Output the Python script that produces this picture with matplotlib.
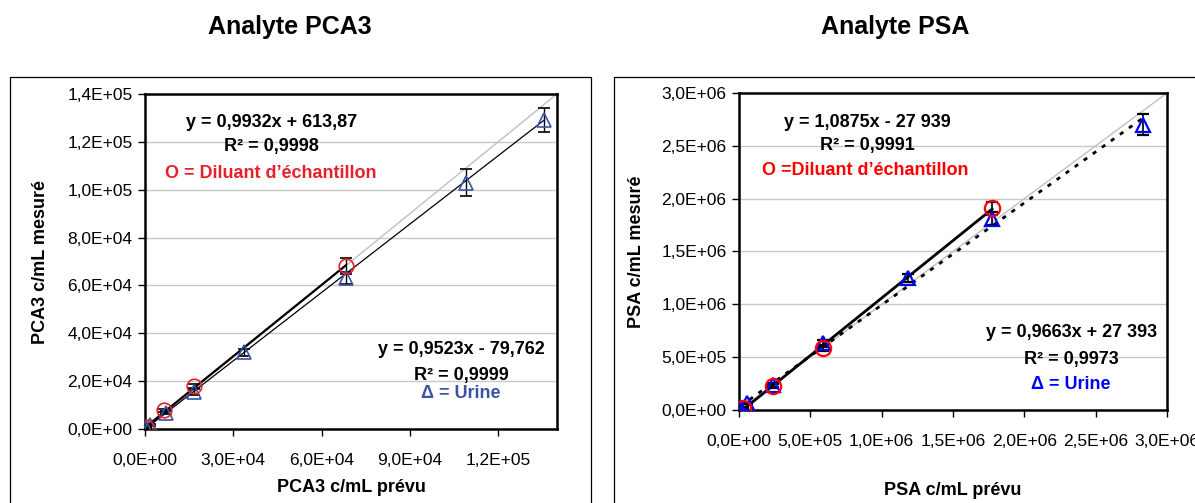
import matplotlib
matplotlib.use('Agg')
import matplotlib.pyplot as plt
from matplotlib.patches import Rectangle
from matplotlib.ticker import FuncFormatter, MultipleLocator

plt.rcParams['font.family'] = ['Liberation Sans', 'DejaVu Sans']

# PCA3 data (c/mL)
pca3_urine_x = [400, 1700, 7000, 16700, 33800, 68200, 109000, 135700]
pca3_urine_y = [300, 1500, 6800, 15500, 32000, 63000, 103000, 129000]
pca3_urine_err = [200, 400, 700, 1200, 1500, 2500, 5800, 5000]
pca3_dil_x = [500, 6500, 16700, 68200]
pca3_dil_y = [1000, 7900, 18000, 68000]
pca3_dil_err = [300, 600, 1000, 3300]
pca3_dil_fit = (0.9932, 613.87)
pca3_urine_fit = (0.9523, -79.762)

# PSA data (c/mL)
psa_urine_x = [10000, 56000, 238000, 590000, 1185000, 1774000, 2833000]
psa_urine_y = [5000, 70000, 235000, 630000, 1250000, 1810000, 2700000]
psa_urine_err = [5000, 10000, 20000, 30000, 40000, 60000, 100000]
psa_dil_x = [28000, 238000, 589000, 1774000]
psa_dil_y = [20000, 225000, 587000, 1910000]
psa_dil_err = [10000, 20000, 25000, 60000]
psa_dil_fit = (1.0875, -27939)
psa_urine_fit = (0.9663, 27393)

W, H = 1195, 503
fig = plt.figure(figsize=(W / 100, H / 100), dpi=100)


def px_axes(l, t, r, b):
    return fig.add_axes([l / W, 1 - b / H, (r - l) / W, (b - t) / H])


def sci(v, pos):
    return f"{v:.1E}".replace('.', ',')


# outer chart frames
fig.patches.append(Rectangle((10 / W, -0.1), 581 / W, 1.1 - 77 / H, transform=fig.transFigure,
                             fill=False, lw=0.9, ec='black'))
fig.patches.append(Rectangle((614 / W, -0.1), 0.6, 1.1 - 77 / H, transform=fig.transFigure,
                             fill=False, lw=0.9, ec='black'))


def setup(ax, xmax, ymax, xstep, ystep):
    ax.set_xlim(0, xmax)
    ax.set_ylim(0, ymax)
    ax.xaxis.set_major_locator(MultipleLocator(xstep))
    ax.yaxis.set_major_locator(MultipleLocator(ystep))
    ax.xaxis.set_major_formatter(FuncFormatter(sci))
    ax.yaxis.set_major_formatter(FuncFormatter(sci))
    ax.tick_params(direction='out', length=5, width=1, labelsize=12.5, pad=4)
    ax.tick_params(axis='x', pad=12)
    ax.grid(axis='y', color='#c8c8c8', lw=1, zorder=0)
    ax.set_axisbelow(True)
    for s in ax.spines.values():
        s.set_linewidth(1.8)


def fitline(ax, xs, fit, **kw):
    a, b = fit
    x0, x1 = min(xs), max(xs)
    ax.plot([x0, x1], [a * x0 + b, a * x1 + b], **kw)


# ---- PCA3 ----
ax1 = px_axes(145, 94, 557, 429)
setup(ax1, 1.4e5, 1.4e5, 3e4, 2e4)
blue1, red1 = '#3a53a4', '#e8202a'
ax1.add_patch(Rectangle((0.029, 0.696), 0.554, 0.286, transform=ax1.transAxes,
                        fc='white', ec='none', zorder=0.5))
ax1.add_patch(Rectangle((0.553, 0.057), 0.425, 0.24, transform=ax1.transAxes,
                        fc='white', ec='none', zorder=0.5))
ax1.plot([0, 1.4e5], [0, 1.4e5], color='#c0c0c0', lw=1, zorder=1)
fitline(ax1, pca3_dil_x, pca3_dil_fit, color='black', lw=1.6, zorder=2)
fitline(ax1, pca3_urine_x, pca3_urine_fit, color='black', lw=0.9, zorder=2)
ax1.errorbar(pca3_urine_x, pca3_urine_y, yerr=pca3_urine_err, fmt='^', ms=10, mfc='none',
             mec=blue1, mew=1.2, ecolor='black', elinewidth=1, capsize=4.5, zorder=3)
ax1.errorbar(pca3_dil_x, pca3_dil_y, yerr=pca3_dil_err, fmt='o', ms=10.5, mfc='none',
             mec=red1, mew=1.2, ecolor='black', elinewidth=1, capsize=4.5, zorder=3)
kw = dict(transform=ax1.transAxes, ha='center', va='center', fontsize=13, fontweight='bold', zorder=4)
ax1.text(0.306, 0.916, 'y = 0,9932x + 613,87', **kw)
ax1.text(0.306, 0.842, 'R² = 0,9998', **kw)
ax1.text(0.306, 0.764, 'O = Diluant d’échantillon', color=red1, **kw)
ax1.text(0.767, 0.236, 'y = 0,9523x - 79,762', **kw)
ax1.text(0.767, 0.161, 'R² = 0,9999', **kw)
ax1.text(0.767, 0.107, 'Δ = Urine', color=blue1, **kw)
ax1.set_ylabel('PCA3 c/mL mesuré', fontsize=13, fontweight='bold', labelpad=13)
ax1.set_xlabel('PCA3 c/mL prévu', fontsize=13, fontweight='bold', labelpad=8)
fig.text(290 / W, 1 - 27 / H, 'Analyte PCA3', ha='center', va='center', fontsize=18, fontweight='bold')

# ---- PSA ----
ax2 = px_axes(739, 93, 1167, 410)
setup(ax2, 3e6, 3e6, 5e5, 5e5)
ax2.add_patch(Rectangle((0.049, 0.694), 0.495, 0.284, transform=ax2.transAxes,
                        fc='white', ec='none', zorder=0.5))
ax2.add_patch(Rectangle((0.575, 0.016), 0.397, 0.293, transform=ax2.transAxes,
                        fc='white', ec='none', zorder=0.5))
ax2.plot([0, 3e6], [0, 3e6], color='#c0c0c0', lw=1, zorder=1)
fitline(ax2, psa_dil_x, psa_dil_fit, color='black', lw=2, zorder=2)
fitline(ax2, psa_urine_x, psa_urine_fit, color='black', lw=2, ls=(0, (1.5, 2.5)), zorder=2)
ax2.errorbar(psa_urine_x, psa_urine_y, yerr=psa_urine_err, fmt='^', ms=10, mfc='none',
             mec='#0000ff', mew=1.6, ecolor='black', elinewidth=1.2, capsize=4.5, zorder=3)
ax2.errorbar(psa_dil_x, psa_dil_y, yerr=psa_dil_err, fmt='o', ms=11, mfc='none',
             mec='#ff0000', mew=1.6, ecolor='black', elinewidth=1.2, capsize=4.5, zorder=3)
kw = dict(transform=ax2.transAxes, ha='center', va='center', fontsize=13, fontweight='bold', zorder=4)
ax2.text(0.301, 0.908, 'y = 1,0875x - 27 939', **kw)
ax2.text(0.301, 0.833, 'R² = 0,9991', **kw)
ax2.text(0.296, 0.754, 'O =Diluant d’échantillon', color='#ff0000', **kw)
ax2.text(0.778, 0.243, 'y = 0,9663x + 27 393', **kw)
ax2.text(0.776, 0.158, 'R² = 0,9973', **kw)
ax2.text(0.776, 0.079, 'Δ = Urine', color='#0000ff', **kw)
ax2.set_ylabel('PSA c/mL mesuré', fontsize=13, fontweight='bold', labelpad=12)
ax2.set_xlabel('PSA c/mL prévu', fontsize=13, fontweight='bold', labelpad=24)
fig.text(895 / W, 1 - 27 / H, 'Analyte PSA', ha='center', va='center', fontsize=18, fontweight='bold')

fig.savefig('out.png', dpi=100)
